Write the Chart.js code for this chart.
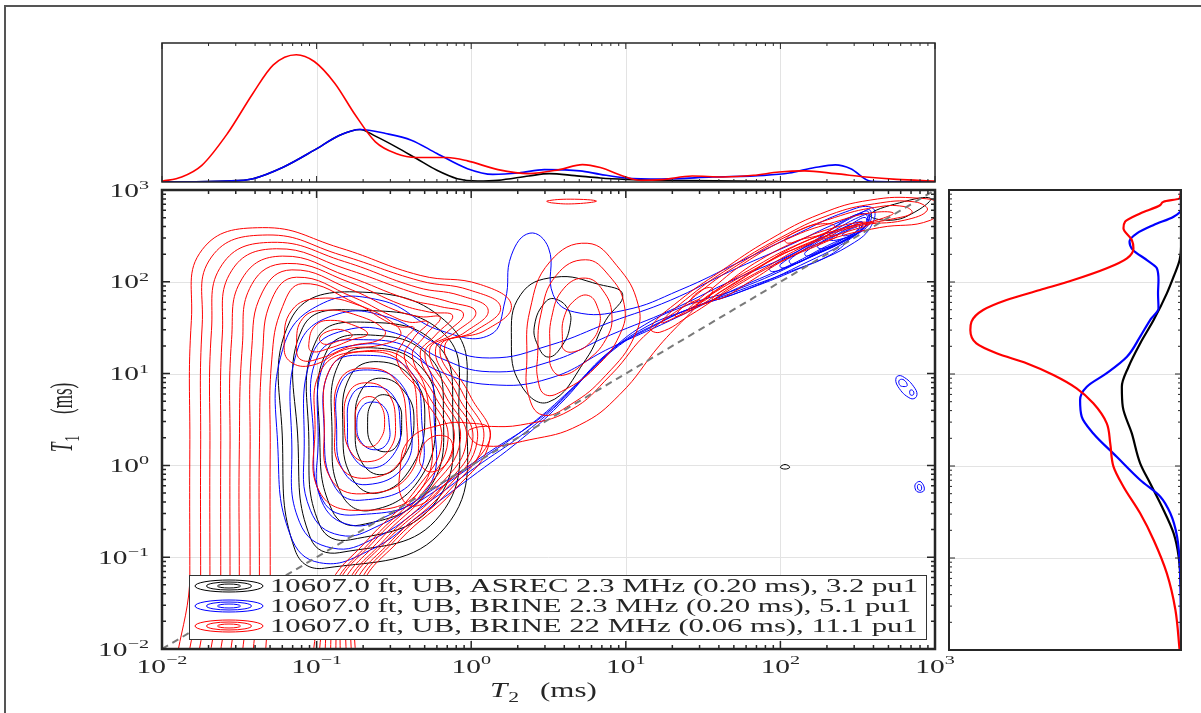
<!DOCTYPE html>
<html>
<head>
<meta charset="utf-8">
<title>T1-T2 maps</title>
<script src="https://cdn.jsdelivr.net/npm/chart.js@4.4.1/dist/chart.umd.min.js"></script>
<style>
  html, body { margin: 0; background: #fff; }
  #fig { position: relative; width: 1201px; height: 713px; overflow: hidden; background: #fff; }
  #fig canvas { position: absolute; left: 0; top: 0; }
  #edge { position: absolute; left: 4px; top: 5px; width: 1300px; height: 800px;
          border-left: 2px solid #555; border-top: 2px solid #555; }
</style>
</head>
<body>
<div id="fig">
  <div id="edge"></div>
  <canvas id="mainMap" width="1201" height="713"></canvas>
  <canvas id="topDist" width="1201" height="713"></canvas>
  <canvas id="sideDist" width="1201" height="713"></canvas>
</div>
<script>
// ---- axes ----
const tickExponents = [-2, -1, 0, 1, 2, 3];
const mantissas = [1, 2, 3, 4, 5, 6, 7, 8, 9];
const diagT = [0.01, 1000];

const legendLabels = [
  '10607.0 ft, UB, ASREC 2.3 MHz (0.20 ms), 3.2 pu1',
  '10607.0 ft, UB, BRINE 2.3 MHz (0.20 ms), 5.1 pu1',
  '10607.0 ft, UB, BRINE 22 MHz (0.06 ms), 11.1 pu1'
];
const RED = '#ff0000', BLUE = '#0000ff', BLACK = '#000000';
const legendColors = [BLACK, BLUE, RED];

// ---- T2 marginals (T2 ms, relative amplitude) ----
const topRed = [[0.01,0.005],[0.0134,0.036],[0.0181,0.12],[0.0265,0.349],[0.0388,0.639],[0.0525,0.843],[0.0739,0.916],[0.0966,0.867],[0.131,0.711],[0.178,0.482],[0.24,0.289],[0.326,0.205],[0.442,0.176],[0.698,0.176],[0.946,0.152],[1.49,0.089],[2.36,0.06],[3.72,0.089],[5.24,0.125],[6.84,0.104],[10,0.036],[12.6,0.012],[17.1,0.017],[26.9,0.043],[42.5,0.036],[67.1,0.048],[98.2,0.072],[144,0.08],[227,0.06],[358,0.036],[565,0.019],[1000,0.007]];
const topBlue = [[0.01,0],[0.0265,0.007],[0.0388,0.024],[0.0612,0.108],[0.0966,0.229],[0.141,0.337],[0.191,0.378],[0.28,0.349],[0.41,0.301],[0.6,0.205],[0.946,0.096],[1.38,0.055],[2.03,0.065],[2.97,0.089],[5.05,0.08],[6.84,0.055],[10,0.029],[17.1,0.022],[36.5,0.036],[78.2,0.048],[114,0.065],[167,0.104],[227,0.123],[285,0.096],[386,0.005],[1000,0]];
const topBlack = [[0.01,0],[0.0265,0.007],[0.0388,0.024],[0.0612,0.108],[0.0966,0.229],[0.141,0.337],[0.191,0.378],[0.24,0.33],[0.326,0.253],[0.442,0.169],[0.6,0.084],[0.813,0.024],[1.1,0.007],[1.49,0.012],[2.36,0.043],[3.2,0.06],[4.68,0.046],[6.84,0.029],[10,0.019],[17.1,0.012],[78.2,0.005],[123,0],[1000,0]];

// ---- T1 marginals (T1 ms, relative amplitude) ----
const sideRed = [[1000,0],[811,0.006],[747,0.075],[687,0.089],[557,0.176],[453,0.241],[383,0.248],[286,0.212],[232,0.205],[181,0.233],[141,0.32],[105,0.464],[81.9,0.608],[63.7,0.752],[49.6,0.853],[37.1,0.903],[30.1,0.908],[21.5,0.882],[16.8,0.795],[13.1,0.666],[9.75,0.55],[6.98,0.45],[4.8,0.378],[2.91,0.32],[1.76,0.305],[0.984,0.291],[0.596,0.248],[0.306,0.176],[0.157,0.118],[0.068,0.061],[0.0272,0.024],[0.01,0.006]];
const sideBlue = [[1000,0],[606,0],[513,0.032],[417,0.118],[338,0.19],[274,0.222],[223,0.207],[173,0.147],[141,0.104],[105,0.097],[75.3,0.099],[51.7,0.097],[38.6,0.133],[25.5,0.176],[15.4,0.233],[10.2,0.32],[7.28,0.406],[5.22,0.435],[3.44,0.428],[2.26,0.378],[1.26,0.277],[0.705,0.176],[0.464,0.089],[0.306,0.046],[0.171,0.017],[0.0577,0.003],[0.01,0]];
const sideBlack = [[1000,0],[242,0],[173,0.006],[114,0.032],[75.3,0.061],[38.6,0.118],[21.5,0.176],[12,0.226],[7.28,0.255],[4.41,0.251],[2.26,0.212],[1.07,0.176],[0.649,0.133],[0.361,0.082],[0.186,0.032],[0.103,0.01],[0.038,0],[0.01,0]];

// ---- contour lines, closed, as [log10 T2, log10 T1] ----
const blackRings = [
  [[-0.67,0.47],[-0.64,0.69],[-0.56,0.77],[-0.47,0.66],[-0.45,0.47],[-0.47,0.25],[-0.54,0.15],[-0.64,0.22]],
  [[-0.75,0.44],[-0.71,0.82],[-0.58,0.95],[-0.43,0.80],[-0.37,0.49],[-0.43,0.11],[-0.57,-0.10],[-0.71,0.04]],
  [[-0.83,0.41],[-0.78,0.98],[-0.60,1.13],[-0.38,0.95],[-0.30,0.55],[-0.38,0.00],[-0.60,-0.30],[-0.77,-0.14]],
  [[-0.90,0.36],[-0.85,1.13],[-0.63,1.28],[-0.33,1.08],[-0.23,0.58],[-0.33,-0.14],[-0.65,-0.49],[-0.84,-0.31]],
  [[-0.98,0.32],[-0.93,1.26],[-0.65,1.42],[-0.28,1.20],[-0.18,0.63],[-0.28,-0.27],[-0.72,-0.65],[-0.90,-0.49]],
  [[-1.05,0.28],[-1.00,1.37],[-0.69,1.56],[-0.23,1.33],[-0.12,0.66],[-0.23,-0.40],[-0.78,-0.81],[-0.98,-0.65]],
  [[-1.12,0.24],[-1.09,1.50],[-0.72,1.69],[-0.18,1.44],[-0.08,0.69],[-0.20,-0.54],[-0.85,-0.95],[-1.04,-0.79]],
  [[-1.22,0.22],[-1.17,1.58],[-0.75,1.89],[-0.14,1.53],[-0.03,0.73],[-0.17,-0.68],[-0.95,-1.12],[-1.14,-0.92]]
];
const blackSecond = [
  [[0.26,1.37],[0.32,1.86],[0.54,2.05],[0.83,1.97],[0.98,1.86],[0.87,1.58],[0.74,1.15],[0.50,0.69],[0.32,0.88]],
  [[0.41,1.53],[0.48,1.78],[0.55,1.81],[0.63,1.69],[0.64,1.53],[0.59,1.31],[0.50,1.18],[0.43,1.31]]
];
const blackSpots = [
  [[2.00,-0.02],[2.03,0.01],[2.06,-0.02],[2.03,-0.04]],
  [[2.58,2.73],[2.77,2.86],[2.97,2.91],[2.87,2.76],[2.71,2.67]]
];

const blueRings = [
  [[-0.74,0.44],[-0.71,0.63],[-0.64,0.69],[-0.56,0.63],[-0.53,0.44],[-0.54,0.25],[-0.62,0.17],[-0.71,0.25]],
  [[-0.80,0.41],[-0.77,0.77],[-0.65,0.86],[-0.51,0.77],[-0.46,0.45],[-0.49,0.15],[-0.64,-0.03],[-0.77,0.11]],
  [[-0.87,0.39],[-0.84,0.91],[-0.67,1.04],[-0.46,0.90],[-0.39,0.47],[-0.43,0.00],[-0.68,-0.21],[-0.83,-0.05]],
  [[-0.95,0.35],[-0.91,1.06],[-0.70,1.20],[-0.40,1.04],[-0.32,0.49],[-0.36,-0.14],[-0.72,-0.38],[-0.89,-0.21]],
  [[-1.02,0.32],[-0.99,1.20],[-0.73,1.37],[-0.33,1.18],[-0.24,0.53],[-0.30,-0.29],[-0.75,-0.54],[-0.96,-0.38]]
];
const blueBand = [
  [[-1.25,0.17],[-1.22,1.26],[-0.98,1.75],[-0.59,1.80],[-0.20,1.47],[0.12,1.42],[0.22,1.80],[0.26,2.29],[0.38,2.53],[0.50,2.37],[0.53,1.86],[0.67,1.67],[0.99,1.69],[1.35,1.91],[1.74,2.22],[2.13,2.54],[2.42,2.76],[2.59,2.81],[2.60,2.65],[2.48,2.43],[2.13,2.15],[1.74,1.89],[1.42,1.71],[1.09,1.47],[0.83,1.13],[0.57,0.66],[0.32,0.28],[-0.01,-0.14],[-0.33,-0.54],[-0.65,-0.92],[-0.98,-1.06],[-1.17,-0.76]],
  [[-1.16,0.19],[-1.12,1.28],[-0.88,1.64],[-0.53,1.61],[-0.20,1.31],[0.12,1.17],[0.51,1.31],[0.90,1.56],[1.29,1.80],[1.67,2.11],[2.06,2.40],[2.38,2.65],[2.55,2.74],[2.53,2.57],[2.13,2.22],[1.74,1.93],[1.42,1.76],[1.12,1.53],[0.87,1.20],[0.60,0.73],[0.35,0.36],[0.02,-0.03],[-0.30,-0.43],[-0.62,-0.79],[-0.90,-0.90],[-1.11,-0.62]],
  [[-1.08,0.21],[-1.03,1.20],[-0.82,1.47],[-0.49,1.44],[-0.20,1.17],[0.12,1.02],[0.51,1.13],[0.90,1.42],[1.29,1.69],[1.67,2.00],[2.06,2.29],[2.38,2.57],[2.53,2.65],[2.48,2.50],[2.13,2.18],[1.74,1.89],[1.42,1.71],[1.16,1.50],[0.91,1.26],[0.64,0.82],[0.38,0.44],[0.06,0.06],[-0.27,-0.32],[-0.59,-0.65],[-0.85,-0.76],[-1.04,-0.49]],
  [[-0.99,0.23],[-0.95,1.13],[-0.75,1.31],[-0.46,1.26],[-0.20,1.02],[0.12,0.88],[0.51,0.95],[0.90,1.28],[1.29,1.58],[1.67,1.89],[2.06,2.18],[2.35,2.43],[2.45,2.48],[2.32,2.29],[2.06,2.11],[1.74,1.91],[1.48,1.75],[1.22,1.56],[0.96,1.31],[0.70,0.91],[0.45,0.52],[0.12,0.15],[-0.20,-0.21],[-0.53,-0.54],[-0.78,-0.65],[-0.97,-0.38]]
];
const blueCluster = [
  [[1.93,2.15],[2.13,2.35],[2.35,2.59],[2.51,2.74],[2.58,2.78],[2.57,2.62],[2.45,2.48],[2.26,2.32],[2.06,2.17],[1.95,2.11]],
  [[2.00,2.19],[2.18,2.38],[2.37,2.62],[2.53,2.76],[2.57,2.76],[2.56,2.62],[2.44,2.47],[2.24,2.31],[2.07,2.18],[2.01,2.15]],
  [[2.06,2.24],[2.22,2.41],[2.38,2.59],[2.53,2.72],[2.57,2.73],[2.55,2.61],[2.42,2.46],[2.22,2.30],[2.08,2.19]],
  [[2.16,2.32],[2.31,2.48],[2.45,2.62],[2.55,2.70],[2.54,2.59],[2.42,2.46],[2.27,2.35],[2.17,2.28]],
  [[2.24,2.39],[2.37,2.52],[2.49,2.63],[2.53,2.65],[2.51,2.57],[2.40,2.46],[2.27,2.36]],
  [[2.32,2.46],[2.44,2.57],[2.51,2.62],[2.49,2.54],[2.38,2.46]],
  [[2.40,2.51],[2.48,2.59],[2.50,2.57],[2.45,2.51]]
];
const blueSpots = [
  [[2.75,0.96],[2.79,0.97],[2.87,0.84],[2.88,0.75],[2.84,0.73],[2.76,0.86]],
  [[2.77,0.93],[2.80,0.93],[2.82,0.87],[2.79,0.86],[2.77,0.88]],
  [[2.84,0.82],[2.86,0.81],[2.86,0.77],[2.84,0.77]],
  [[2.88,-0.19],[2.91,-0.18],[2.93,-0.27],[2.89,-0.29],[2.87,-0.24]],
  [[2.89,-0.21],[2.91,-0.22],[2.91,-0.27],[2.89,-0.26]]
];

const redOuter = [
  [[-1.82,-2.56],[-1.82,-1.2],[-1.82,0.17],[-1.81,1.58],[-1.74,2.35],[-1.35,2.59],[-0.85,2.37],[-0.33,2.07],[0.06,1.97],[0.26,1.74],[0.09,1.47],[-0.17,1.31],[-0.01,0.77],[0.12,0.28],[-0.11,-0.27],[-0.46,-0.81],[-0.72,-1.36],[-0.85,-2.56]],
  [[-1.75,-2.56],[-1.75,-1.2],[-1.75,0.17],[-1.74,1.53],[-1.68,2.27],[-1.32,2.51],[-0.84,2.29],[-0.33,2.01],[-0.01,1.91],[0.19,1.72],[0.02,1.46],[-0.20,1.29],[-0.05,0.77],[0.08,0.28],[-0.14,-0.27],[-0.49,-0.81],[-0.74,-1.36],[-0.88,-2.56]],
  [[-1.69,-2.56],[-1.69,-1.2],[-1.69,0.17],[-1.68,1.47],[-1.61,2.19],[-1.29,2.43],[-0.82,2.22],[-0.35,1.94],[-0.07,1.85],[0.11,1.69],[-0.04,1.45],[-0.23,1.27],[-0.09,0.77],[0.04,0.28],[-0.17,-0.27],[-0.51,-0.81],[-0.77,-1.36],[-0.91,-2.56]],
  [[-1.62,-2.56],[-1.62,-1.2],[-1.62,0.17],[-1.61,1.42],[-1.55,2.12],[-1.26,2.36],[-0.81,2.14],[-0.37,1.88],[-0.14,1.78],[0.03,1.67],[-0.11,1.44],[-0.27,1.25],[-0.13,0.77],[0.01,0.28],[-0.20,-0.27],[-0.54,-0.81],[-0.80,-1.36],[-0.95,-2.56]],
  [[-1.56,-2.56],[-1.56,-1.2],[-1.56,0.17],[-1.55,1.37],[-1.48,2.04],[-1.22,2.28],[-0.80,2.06],[-0.41,1.81],[-0.20,1.73],[-0.05,1.65],[-0.17,1.43],[-0.30,1.22],[-0.17,0.77],[-0.03,0.28],[-0.23,-0.27],[-0.56,-0.81],[-0.82,-1.36],[-0.98,-2.56]],
  [[-1.50,-2.56],[-1.50,-1.2],[-1.50,0.17],[-1.48,1.31],[-1.42,1.97],[-1.19,2.20],[-0.78,1.99],[-0.45,1.75],[-0.27,1.67],[-0.12,1.63],[-0.23,1.42],[-0.33,1.20],[-0.20,0.77],[-0.07,0.28],[-0.27,-0.27],[-0.59,-0.81],[-0.85,-1.36],[-1.01,-2.56]],
  [[-1.43,-2.56],[-1.43,-1.2],[-1.43,0.17],[-1.42,1.26],[-1.35,1.89],[-1.16,2.13],[-0.77,1.91],[-0.49,1.69],[-0.33,1.62],[-0.20,1.61],[-0.30,1.41],[-0.38,1.18],[-0.24,0.77],[-0.11,0.28],[-0.30,-0.27],[-0.62,-0.81],[-0.88,-1.36],[-1.04,-2.56]],
  [[-1.37,-2.56],[-1.37,-1.2],[-1.37,0.17],[-1.35,1.20],[-1.29,1.81],[-1.13,2.05],[-0.76,1.83],[-0.53,1.64],[-0.40,1.56],[-0.28,1.56],[-0.37,1.39],[-0.43,1.16],[-0.28,0.77],[-0.15,0.28],[-0.33,-0.27],[-0.64,-0.81],[-0.90,-1.36],[-1.08,-2.56]],
  [[-1.30,-2.56],[-1.30,-1.2],[-1.30,0.17],[-1.29,1.15],[-1.22,1.73],[-1.09,1.98],[-0.74,1.76],[-0.56,1.58],[-0.46,1.51],[-0.37,1.50],[-0.43,1.37],[-0.48,1.14],[-0.32,0.77],[-0.19,0.28],[-0.36,-0.27],[-0.67,-0.81],[-0.93,-1.36],[-1.11,-2.56]]
];
const redUpper = [
  [[-1.21,1.31],[-1.16,1.69],[-0.98,1.82],[-0.72,1.74],[-0.49,1.53],[-0.46,1.41],[-0.59,1.31],[-0.82,1.26],[-1.03,1.09],[-1.17,1.13]],
  [[-1.13,1.31],[-1.09,1.60],[-0.95,1.69],[-0.73,1.63],[-0.56,1.47],[-0.59,1.37],[-0.78,1.30],[-0.97,1.17],[-1.10,1.15]],
  [[-1.05,1.33],[-1.01,1.52],[-0.91,1.58],[-0.75,1.52],[-0.67,1.43],[-0.77,1.37],[-0.91,1.28],[-1.03,1.24]],
  [[-0.98,1.39],[-0.91,1.47],[-0.82,1.47],[-0.77,1.41],[-0.85,1.36],[-0.95,1.32]]
];
const redLower = [
  [[-0.75,0.47],[-0.73,0.67],[-0.66,0.75],[-0.59,0.67],[-0.56,0.47],[-0.59,0.28],[-0.66,0.20],[-0.73,0.28]],
  [[-0.82,0.45],[-0.79,0.80],[-0.67,0.90],[-0.54,0.79],[-0.49,0.47],[-0.53,0.17],[-0.67,0.04],[-0.78,0.15]],
  [[-0.88,0.43],[-0.85,0.93],[-0.68,1.06],[-0.49,0.93],[-0.42,0.49],[-0.46,0.04],[-0.68,-0.14],[-0.85,0.00]],
  [[-0.95,0.41],[-0.91,1.06],[-0.69,1.24],[-0.43,1.08],[-0.35,0.52],[-0.40,-0.10],[-0.71,-0.31],[-0.91,-0.14]],
  [[-1.01,0.39],[-0.97,1.04],[-0.73,1.24],[-0.41,1.13],[-0.27,0.55],[-0.33,-0.27],[-0.73,-0.49],[-0.98,-0.29]],
  [[-0.33,0.11],[-0.28,0.28],[-0.17,0.32],[-0.12,0.22],[-0.15,0.04],[-0.25,-0.07],[-0.32,-0.01]],
  [[-0.46,-0.05],[-0.40,0.28],[-0.20,0.44],[-0.01,0.46],[0.12,0.39],[0.06,0.11],[-0.14,-0.16],[-0.33,-0.43],[-0.44,-0.38]]
];
const redSecond = [
  [[0.36,1.15],[0.38,1.69],[0.51,2.22],[0.75,2.42],[0.94,2.18],[1.08,1.75],[1.06,1.42],[0.87,0.98],[0.64,0.66],[0.46,0.55],[0.37,0.77]],
  [[0.43,1.20],[0.45,1.64],[0.55,2.07],[0.74,2.24],[0.89,2.07],[0.99,1.75],[0.96,1.42],[0.80,1.06],[0.60,0.82],[0.48,0.77],[0.43,0.95]],
  [[0.51,1.26],[0.52,1.61],[0.60,1.93],[0.74,2.04],[0.85,1.91],[0.91,1.64],[0.87,1.37],[0.74,1.13],[0.59,0.98],[0.52,1.06]],
  [[0.59,1.37],[0.60,1.61],[0.67,1.80],[0.76,1.85],[0.82,1.71],[0.83,1.53],[0.77,1.34],[0.67,1.24],[0.60,1.26]],
  [[-0.01,0.39],[0.32,0.44],[0.64,0.60],[0.90,0.98],[1.16,1.47],[1.48,1.80],[1.22,1.31],[0.96,0.77],[0.70,0.44],[0.38,0.28],[0.06,0.22]]
];
const redRidge = [
  [[1.16,1.50],[1.35,1.80],[1.61,2.11],[1.93,2.46],[2.26,2.74],[2.58,2.89],[2.90,2.91],[3.03,2.84],[2.97,2.67],[2.64,2.59],[2.32,2.46],[2.00,2.22],[1.67,1.91],[1.42,1.64],[1.22,1.45]],
  [[1.23,1.56],[1.42,1.85],[1.67,2.15],[2.00,2.48],[2.32,2.73],[2.61,2.85],[2.87,2.87],[2.95,2.78],[2.80,2.67],[2.51,2.61],[2.19,2.43],[1.87,2.17],[1.58,1.89],[1.35,1.64]],
  [[1.32,1.63],[1.48,1.89],[1.74,2.20],[2.06,2.51],[2.35,2.70],[2.61,2.81],[2.80,2.82],[2.85,2.75],[2.71,2.68],[2.45,2.60],[2.13,2.42],[1.80,2.13],[1.54,1.86],[1.40,1.67]],
  [[1.40,1.69],[1.56,1.93],[1.80,2.24],[2.09,2.50],[2.35,2.65],[2.58,2.75],[2.73,2.75],[2.64,2.68],[2.42,2.59],[2.11,2.40],[1.84,2.13],[1.61,1.89],[1.48,1.74]],
  [[1.48,1.76],[1.64,1.97],[1.87,2.24],[2.13,2.46],[2.35,2.59],[2.53,2.65],[2.58,2.63],[2.44,2.55],[2.16,2.39],[1.90,2.15],[1.67,1.93],[1.54,1.78]],
  [[1.56,1.82],[1.74,2.02],[1.96,2.26],[2.16,2.40],[2.31,2.50],[2.37,2.50],[2.26,2.41],[2.03,2.24],[1.80,2.00],[1.62,1.82]],
  [[2.03,2.46],[2.13,2.57],[2.26,2.63],[2.35,2.61],[2.27,2.52],[2.13,2.46],[2.05,2.42]],
  [[1.42,1.80],[1.49,1.91],[1.56,1.93],[1.53,1.82],[1.45,1.77]],
  [[0.49,2.88],[0.64,2.90],[0.81,2.88],[0.67,2.85],[0.52,2.86]]
];

// ---- helpers ----
const SX = 1.55;
const SERIF = '"Liberation Serif", "DejaVu Serif", serif';
const INK = '#262626';

function measure(ctx, s, size, italic) {
  ctx.save();
  ctx.font = (italic ? 'italic ' : '') + size + 'px ' + SERIF;
  const w = ctx.measureText(s).width;
  ctx.restore();
  return w;
}
function stretchText(ctx, s, x, y, size, o = {}) {
  ctx.save();
  ctx.translate(x, y);
  ctx.scale(o.sx || SX, 1);
  if (o.rot) ctx.rotate(o.rot);
  ctx.font = (o.italic ? 'italic ' : '') + size + 'px ' + SERIF;
  ctx.textAlign = 'left';
  ctx.textBaseline = 'alphabetic';
  ctx.fillStyle = INK;
  ctx.fillText(s, o.u || 0, o.v || 0);
  ctx.restore();
}

function ringSet(rings, color, order) {
  return rings.map(r => {
    const n = r.length;
    const pts = r.map(([a, b]) => ({ x: 10 ** a, y: 10 ** b }));
    return {
      data: pts.concat(pts.slice(0, 3)),
      borderColor: color, borderWidth: 1, pointRadius: 0, tension: 0.45, order,
      segment: {
        borderColor: c => (c.p0DataIndex === 0 || c.p0DataIndex === n + 1) ? 'rgba(0,0,0,0)' : undefined
      }
    };
  });
}
function curve(pairs, color, width, order, flip) {
  return {
    data: pairs.map(([t, a]) => flip ? { x: a, y: t } : { x: t, y: a }),
    borderColor: color, borderWidth: width, pointRadius: 0, order,
    cubicInterpolationMode: 'monotone'
  };
}

// grid, inward ticks and box for each panel
const panelFrame = {
  id: 'panelFrame',
  beforeDatasetsDraw(chart, args, o) {
    const { ctx, chartArea: a, scales } = chart;
    ctx.save();
    ctx.strokeStyle = '#e3e3e3';
    ctx.lineWidth = 1;
    ctx.beginPath();
    tickExponents.forEach(e => {
      if (o.logX) {
        const p = Math.round(scales.x.getPixelForValue(10 ** e)) + 0.5;
        ctx.moveTo(p, a.top); ctx.lineTo(p, a.bottom);
      }
      if (o.logY) {
        const p = Math.round(scales.y.getPixelForValue(10 ** e)) + 0.5;
        ctx.moveTo(a.left, p); ctx.lineTo(a.right, p);
      }
    });
    ctx.stroke();
    ctx.restore();
  },
  afterDatasetsDraw(chart, args, o) {
    const { ctx, chartArea: a, scales } = chart;
    ctx.save();
    ctx.strokeStyle = INK;
    ctx.lineWidth = o.tickWidth;
    ctx.beginPath();
    tickExponents.forEach(e => mantissas.forEach(m => {
      const v = m * 10 ** e;
      if (v > 1000.01) return;
      const len = m === 1 ? o.major : o.minor;
      if (o.logX) {
        const p = scales.x.getPixelForValue(v);
        ctx.moveTo(p, a.bottom); ctx.lineTo(p, a.bottom - len);
        ctx.moveTo(p, a.top); ctx.lineTo(p, a.top + len);
      }
      if (o.logY) {
        const p = scales.y.getPixelForValue(v);
        ctx.moveTo(a.left, p); ctx.lineTo(a.left + len, p);
        ctx.moveTo(a.right, p); ctx.lineTo(a.right - len, p);
      }
    }));
    ctx.stroke();
    ctx.lineWidth = o.frameWidth;
    ctx.strokeRect(a.left, a.top, a.right - a.left, a.bottom - a.top);
    ctx.restore();
  }
};

// tick labels, axis titles and legend of the map
const mapLabels = {
  id: 'mapLabels',
  afterDraw(chart) {
    const { ctx, scales: { x, y } } = chart;
    ctx.save();
    tickExponents.forEach(e => {
      const es = e < 0 ? '\u2212' + (-e) : String(e);
      const w10 = measure(ctx, '10', 19) * SX;
      const we = measure(ctx, es, 13) * SX;
      const px = x.getPixelForValue(10 ** e);
      const x0 = px - (w10 + we) / 2;
      stretchText(ctx, '10', x0, 673, 19);
      stretchText(ctx, es, x0 + w10, 664, 13);
      const py = y.getPixelForValue(10 ** e);
      stretchText(ctx, es, 149 - we, py - 1, 13);
      stretchText(ctx, '10', 149 - we - w10, py + 6.5, 19);
    });

    // T2 (ms)
    const wT = measure(ctx, 'T', 20, true) * SX;
    stretchText(ctx, 'T', 490, 697, 20, { italic: true });
    stretchText(ctx, '2', 490 + wT + 1, 702, 14);
    stretchText(ctx, '(ms)', 540, 697, 20);

    // T1 (ms), rotated
    const rot = -Math.PI / 2;
    const wT1 = measure(ctx, 'T', 17, true);
    stretchText(ctx, 'T', 72, 452, 17, { italic: true, rot, sx: 1.8 });
    stretchText(ctx, '1', 72, 452, 12, { rot, sx: 1.8, u: wT1 + 1, v: 4 });
    stretchText(ctx, '(ms)', 72, 452, 17, { rot, sx: 1.8, u: 38 });

    // legend
    const bx = 189, by = 575, bw = 737, bh = 64;
    ctx.fillStyle = '#fff';
    ctx.fillRect(bx, by, bw, bh);
    ctx.strokeStyle = '#333';
    ctx.lineWidth = 1;
    ctx.strokeRect(bx + 0.5, by + 0.5, bw, bh);
    const fit = 648 / measure(ctx, legendLabels[0], 19);
    legendLabels.forEach((s, i) => {
      const cy = 586 + 20 * i;
      ctx.strokeStyle = legendColors[i];
      [[34, 6], [22.5, 4], [11.5, 2]].forEach(([rx, ry]) => {
        ctx.beginPath();
        ctx.ellipse(229, cy, rx, ry, 0, 0, 2 * Math.PI);
        ctx.stroke();
      });
      stretchText(ctx, s, 270, cy + 6, 19, { sx: fit });
    });
    ctx.restore();
  }
};

function baseOptions(padding, scales, frame) {
  return {
    responsive: false, animation: false, devicePixelRatio: 1, events: [],
    layout: { padding },
    scales,
    elements: { point: { radius: 0 }, line: { capBezierPoints: false } },
    plugins: { legend: { display: false }, tooltip: { enabled: false }, panelFrame: frame }
  };
}

// ---- main T1-T2 map ----
new Chart(document.getElementById('mainMap'), {
  type: 'line',
  data: {
    datasets: [
      { data: diagT.map(t => ({ x: t, y: t })), borderColor: '#7a7a7a', borderWidth: 2,
        borderDash: [7, 5], pointRadius: 0, order: 0 },
      ...ringSet(redOuter, RED, 1), ...ringSet(redUpper, RED, 1), ...ringSet(redLower, RED, 1),
      ...ringSet(redSecond, RED, 1), ...ringSet(redRidge, RED, 1),
      ...ringSet(blueRings, BLUE, 2), ...ringSet(blueBand, BLUE, 2), ...ringSet(blueCluster, BLUE, 2),
      ...ringSet(blueSpots, BLUE, 2),
      ...ringSet(blackRings, BLACK, 3), ...ringSet(blackSecond, BLACK, 3), ...ringSet(blackSpots, BLACK, 3)
    ]
  },
  options: baseOptions(
    { left: 162, top: 190, right: 266, bottom: 64 },
    { x: { type: 'logarithmic', min: 0.01, max: 1000, display: false },
      y: { type: 'logarithmic', min: 0.01, max: 1000, display: false } },
    { logX: true, logY: true, major: 8, minor: 4, tickWidth: 1.5, frameWidth: 2.5 }
  ),
  plugins: [panelFrame, mapLabels]
});

// ---- T2 distribution on top ----
new Chart(document.getElementById('topDist'), {
  type: 'line',
  data: {
    datasets: [
      curve(topRed, RED, 1.6, 1),
      curve(topBlue, BLUE, 1.6, 2),
      curve(topBlack, BLACK, 1.6, 3)
    ]
  },
  options: baseOptions(
    { left: 162, top: 43, right: 266, bottom: 531 },
    { x: { type: 'logarithmic', min: 0.01, max: 1000, display: false },
      y: { type: 'linear', min: 0, max: 1, display: false } },
    { logX: true, logY: false, major: 6, minor: 3, tickWidth: 1, frameWidth: 1.5 }
  ),
  plugins: [panelFrame]
});

// ---- T1 distribution on the right ----
const sideOpts = baseOptions(
  { left: 949, top: 190, right: 20, bottom: 63 },
  { x: { type: 'linear', min: 0, max: 1, reverse: true, display: false },
    y: { type: 'logarithmic', min: 0.01, max: 1000, display: false } },
  { logX: false, logY: true, major: 6, minor: 3, tickWidth: 1, frameWidth: 2 }
);
sideOpts.indexAxis = 'y';
new Chart(document.getElementById('sideDist'), {
  type: 'line',
  data: {
    datasets: [
      curve(sideRed, RED, 2.2, 1, true),
      curve(sideBlue, BLUE, 2.2, 2, true),
      curve(sideBlack, BLACK, 2.2, 3, true)
    ]
  },
  options: sideOpts,
  plugins: [panelFrame]
});
</script>
</body>
</html>
